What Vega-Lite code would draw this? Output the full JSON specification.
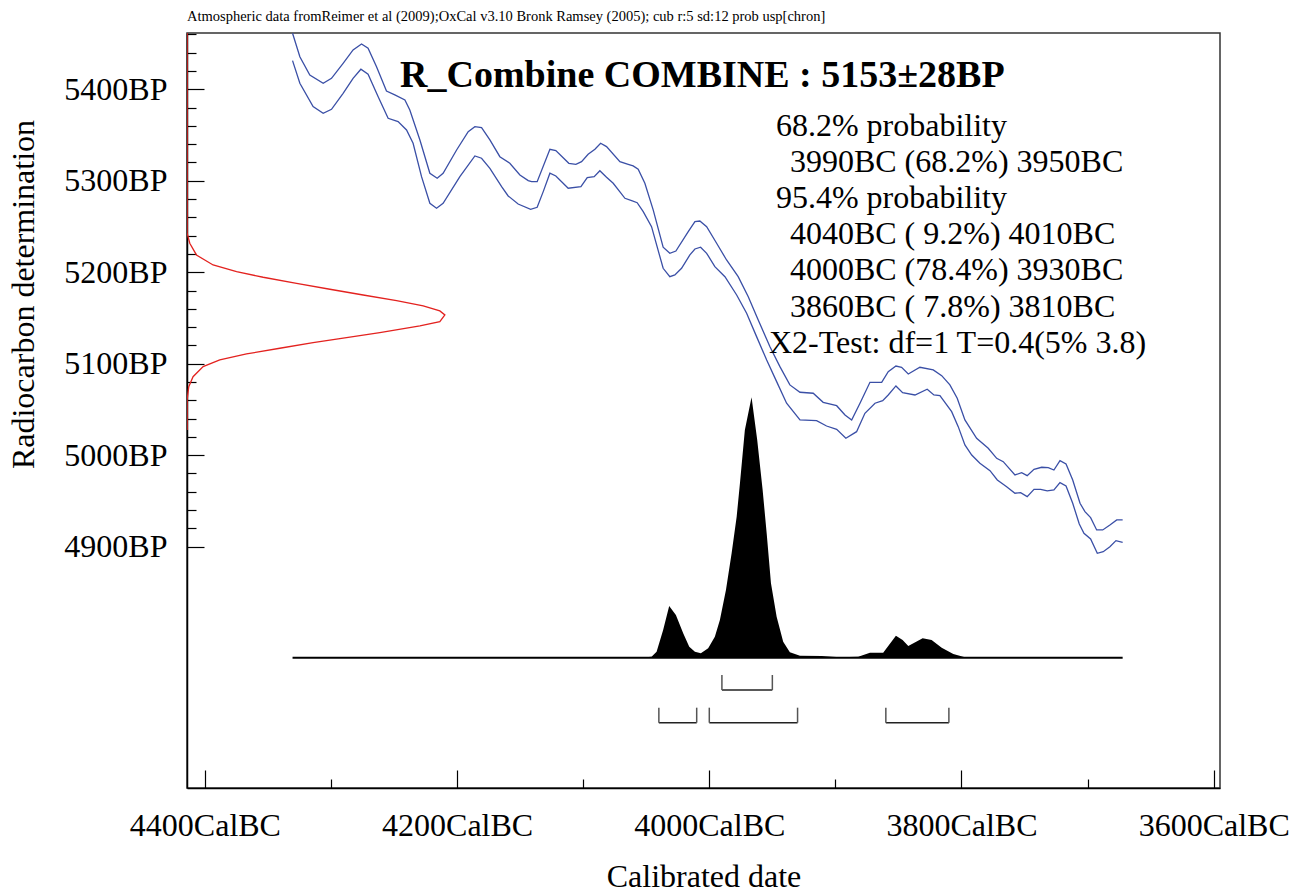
{
  "$schema": "https://vega.github.io/schema/vega-lite/v6.json",
  "width": 1033,
  "height": 755,
  "autosize": {"type": "none"},
  "padding": {"left": 187, "top": 33, "right": 80, "bottom": 104},
  "background": "white",
  "title": {"text": "Atmospheric data fromReimer et al (2009);OxCal v3.10 Bronk Ramsey (2005); cub r:5 sd:12 prob usp[chron]", "anchor": "start", "frame": "group", "font": "Liberation Serif", "fontSize": 14.5, "fontWeight": "normal", "color": "black", "baseline": "alphabetic", "offset": 14, "dy": 16},
  "config": {
    "view": {"stroke": "#333", "strokeWidth": 1.5},
    "font": "Liberation Serif",
    "axis": {"grid": false, "domainColor": "black", "domainWidth": 1.5, "tickColor": "black", "tickWidth": 1.2, "labelColor": "black", "titleColor": "black", "labelFont": "Liberation Serif", "titleFont": "Liberation Serif", "labelFontSize": 32, "titleFontSize": 32, "titleFontWeight": "normal", "labelOverlap": false, "labelFlush": false}
  },
  "datasets": {
    "curve": [
      {"band":"upper","calBC":4330.5,"BP":5461.2},{"band":"upper","calBC":4324.7,"BP":5435.6},{"band":"upper","calBC":4316.8,"BP":5415.6},{"band":"upper","calBC":4306.2,"BP":5406.6},{"band":"upper","calBC":4299.6,"BP":5412.0},{"band":"upper","calBC":4290.4,"BP":5428.4},{"band":"upper","calBC":4282.5,"BP":5443.0},{"band":"upper","calBC":4275.8,"BP":5449.5},{"band":"upper","calBC":4270.6,"BP":5444.8},{"band":"upper","calBC":4263.9,"BP":5424.7},{"band":"upper","calBC":4256.0,"BP":5398.1},{"band":"upper","calBC":4249.4,"BP":5393.8},{"band":"upper","calBC":4241.4,"BP":5388.3},{"band":"upper","calBC":4237.5,"BP":5377.4},{"band":"upper","calBC":4229.5,"BP":5344.6},{"band":"upper","calBC":4221.6,"BP":5308.2},{"band":"upper","calBC":4215.8,"BP":5302.7},{"band":"upper","calBC":4211.1,"BP":5308.2},{"band":"upper","calBC":4200.4,"BP":5333.6},{"band":"upper","calBC":4191.2,"BP":5353.7},{"band":"upper","calBC":4185.9,"BP":5359.1},{"band":"upper","calBC":4180.6,"BP":5358.0},{"band":"upper","calBC":4174.0,"BP":5344.6},{"band":"upper","calBC":4166.1,"BP":5326.3},{"band":"upper","calBC":4158.2,"BP":5319.1},{"band":"upper","calBC":4150.2,"BP":5306.3},{"band":"upper","calBC":4143.6,"BP":5300.1},{"band":"upper","calBC":4140.9,"BP":5299.0},{"band":"upper","calBC":4136.5,"BP":5299.0},{"band":"upper","calBC":4126.4,"BP":5334.4},{"band":"upper","calBC":4121.7,"BP":5332.9},{"band":"upper","calBC":4111.4,"BP":5319.1},{"band":"upper","calBC":4105.8,"BP":5318.0},{"band":"upper","calBC":4101.3,"BP":5320.9},{"band":"upper","calBC":4096.1,"BP":5328.9},{"band":"upper","calBC":4090.7,"BP":5334.4},{"band":"upper","calBC":4086.2,"BP":5341.0},{"band":"upper","calBC":4081.5,"BP":5337.3},{"band":"upper","calBC":4070.9,"BP":5320.9},{"band":"upper","calBC":4064.3,"BP":5318.0},{"band":"upper","calBC":4060.4,"BP":5316.2},{"band":"upper","calBC":4056.4,"BP":5312.5},{"band":"upper","calBC":4051.1,"BP":5297.2},{"band":"upper","calBC":4044.5,"BP":5268.1},{"band":"upper","calBC":4036.6,"BP":5227.3},{"band":"upper","calBC":4031.3,"BP":5220.7},{"band":"upper","calBC":4026.5,"BP":5223.2},{"band":"upper","calBC":4016.7,"BP":5244.3},{"band":"upper","calBC":4011.4,"BP":5255.3},{"band":"upper","calBC":4007.5,"BP":5256.0},{"band":"upper","calBC":4002.1,"BP":5249.8},{"band":"upper","calBC":3994.2,"BP":5231.7},{"band":"upper","calBC":3986.3,"BP":5213.4},{"band":"upper","calBC":3977.1,"BP":5195.1},{"band":"upper","calBC":3969.1,"BP":5173.3},{"band":"upper","calBC":3961.2,"BP":5147.8},{"band":"upper","calBC":3951.9,"BP":5118.6},{"band":"upper","calBC":3944.0,"BP":5096.8},{"band":"upper","calBC":3936.1,"BP":5076.8},{"band":"upper","calBC":3928.1,"BP":5068.8},{"band":"upper","calBC":3917.6,"BP":5067.7},{"band":"upper","calBC":3909.7,"BP":5057.8},{"band":"upper","calBC":3899.0,"BP":5054.1},{"band":"upper","calBC":3892.4,"BP":5044.0},{"band":"upper","calBC":3887.1,"BP":5038.5},{"band":"upper","calBC":3880.5,"BP":5056.8},{"band":"upper","calBC":3872.6,"BP":5079.7},{"band":"upper","calBC":3863.3,"BP":5079.7},{"band":"upper","calBC":3858.1,"BP":5091.3},{"band":"upper","calBC":3852.0,"BP":5097.5},{"band":"upper","calBC":3847.5,"BP":5096.1},{"band":"upper","calBC":3842.2,"BP":5088.8},{"band":"upper","calBC":3833.0,"BP":5096.1},{"band":"upper","calBC":3822.4,"BP":5093.2},{"band":"upper","calBC":3815.7,"BP":5086.9},{"band":"upper","calBC":3809.2,"BP":5076.8},{"band":"upper","calBC":3803.4,"BP":5062.2},{"band":"upper","calBC":3797.3,"BP":5038.5},{"band":"upper","calBC":3788.0,"BP":5018.5},{"band":"upper","calBC":3778.8,"BP":5007.6},{"band":"upper","calBC":3772.1,"BP":4996.6},{"band":"upper","calBC":3766.9,"BP":4992.9},{"band":"upper","calBC":3757.6,"BP":4978.4},{"band":"upper","calBC":3752.3,"BP":4980.9},{"band":"upper","calBC":3747.9,"BP":4977.6},{"band":"upper","calBC":3742.5,"BP":4984.6},{"band":"upper","calBC":3736.4,"BP":4986.8},{"band":"upper","calBC":3731.2,"BP":4986.4},{"band":"upper","calBC":3726.7,"BP":4983.8},{"band":"upper","calBC":3721.9,"BP":4994.0},{"band":"upper","calBC":3717.1,"BP":4990.4},{"band":"upper","calBC":3711.8,"BP":4972.9},{"band":"upper","calBC":3706.0,"BP":4947.4},{"band":"upper","calBC":3702.1,"BP":4938.3},{"band":"upper","calBC":3697.6,"BP":4931.7},{"band":"upper","calBC":3692.8,"BP":4918.3},{"band":"upper","calBC":3688.0,"BP":4918.3},{"band":"upper","calBC":3682.3,"BP":4923.7},{"band":"upper","calBC":3676.9,"BP":4929.2},{"band":"upper","calBC":3672.2,"BP":4929.2},
      {"band":"lower","calBC":4330.5,"BP":5431.3},{"band":"lower","calBC":4324.7,"BP":5406.6},{"band":"lower","calBC":4314.2,"BP":5381.0},{"band":"lower","calBC":4306.2,"BP":5373.8},{"band":"lower","calBC":4299.6,"BP":5378.1},{"band":"lower","calBC":4290.4,"BP":5395.6},{"band":"lower","calBC":4282.5,"BP":5412.0},{"band":"lower","calBC":4276.3,"BP":5421.9},{"band":"lower","calBC":4270.6,"BP":5416.4},{"band":"lower","calBC":4262.6,"BP":5391.9},{"band":"lower","calBC":4254.7,"BP":5368.3},{"band":"lower","calBC":4246.8,"BP":5364.6},{"band":"lower","calBC":4240.1,"BP":5355.5},{"band":"lower","calBC":4234.9,"BP":5341.0},{"band":"lower","calBC":4228.2,"BP":5304.5},{"band":"lower","calBC":4221.6,"BP":5275.4},{"band":"lower","calBC":4216.3,"BP":5269.9},{"band":"lower","calBC":4211.1,"BP":5275.4},{"band":"lower","calBC":4197.8,"BP":5304.5},{"band":"lower","calBC":4185.9,"BP":5327.1},{"band":"lower","calBC":4180.6,"BP":5324.6},{"band":"lower","calBC":4174.0,"BP":5313.6},{"band":"lower","calBC":4164.7,"BP":5293.5},{"band":"lower","calBC":4159.5,"BP":5283.4},{"band":"lower","calBC":4151.6,"BP":5274.6},{"band":"lower","calBC":4141.7,"BP":5268.8},{"band":"lower","calBC":4136.5,"BP":5271.0},{"band":"lower","calBC":4131.7,"BP":5288.1},{"band":"lower","calBC":4126.4,"BP":5308.2},{"band":"lower","calBC":4121.7,"BP":5305.2},{"band":"lower","calBC":4111.9,"BP":5291.8},{"band":"lower","calBC":4101.8,"BP":5293.5},{"band":"lower","calBC":4096.8,"BP":5303.4},{"band":"lower","calBC":4091.3,"BP":5304.5},{"band":"lower","calBC":4086.8,"BP":5311.0},{"band":"lower","calBC":4081.5,"BP":5303.8},{"band":"lower","calBC":4076.2,"BP":5297.2},{"band":"lower","calBC":4066.9,"BP":5280.8},{"band":"lower","calBC":4061.6,"BP":5278.2},{"band":"lower","calBC":4057.2,"BP":5276.0},{"band":"lower","calBC":4052.4,"BP":5266.2},{"band":"lower","calBC":4045.8,"BP":5249.8},{"band":"lower","calBC":4036.6,"BP":5204.3},{"band":"lower","calBC":4031.3,"BP":5195.1},{"band":"lower","calBC":4027.3,"BP":5197.0},{"band":"lower","calBC":4022.0,"BP":5204.3},{"band":"lower","calBC":4015.4,"BP":5218.9},{"band":"lower","calBC":4011.4,"BP":5225.4},{"band":"lower","calBC":4006.9,"BP":5227.3},{"band":"lower","calBC":4002.1,"BP":5220.7},{"band":"lower","calBC":3995.6,"BP":5206.1},{"band":"lower","calBC":3987.6,"BP":5195.1},{"band":"lower","calBC":3978.3,"BP":5175.1},{"band":"lower","calBC":3970.4,"BP":5155.1},{"band":"lower","calBC":3962.5,"BP":5129.6},{"band":"lower","calBC":3954.5,"BP":5104.1},{"band":"lower","calBC":3946.6,"BP":5080.4},{"band":"lower","calBC":3938.7,"BP":5056.8},{"band":"lower","calBC":3928.1,"BP":5038.5},{"band":"lower","calBC":3914.9,"BP":5037.7},{"band":"lower","calBC":3907.0,"BP":5031.9},{"band":"lower","calBC":3899.0,"BP":5028.3},{"band":"lower","calBC":3891.7,"BP":5018.5},{"band":"lower","calBC":3883.2,"BP":5025.7},{"band":"lower","calBC":3876.6,"BP":5045.8},{"band":"lower","calBC":3868.6,"BP":5056.8},{"band":"lower","calBC":3862.5,"BP":5059.6},{"band":"lower","calBC":3858.1,"BP":5065.8},{"band":"lower","calBC":3852.0,"BP":5075.7},{"band":"lower","calBC":3846.7,"BP":5068.3},{"band":"lower","calBC":3836.9,"BP":5065.8},{"band":"lower","calBC":3827.2,"BP":5072.1},{"band":"lower","calBC":3821.9,"BP":5065.8},{"band":"lower","calBC":3817.1,"BP":5065.1},{"band":"lower","calBC":3807.8,"BP":5047.6},{"band":"lower","calBC":3802.6,"BP":5031.2},{"band":"lower","calBC":3797.3,"BP":5011.2},{"band":"lower","calBC":3791.9,"BP":5000.2},{"band":"lower","calBC":3785.4,"BP":4991.2},{"band":"lower","calBC":3777.4,"BP":4983.1},{"band":"lower","calBC":3771.6,"BP":4972.9},{"band":"lower","calBC":3764.2,"BP":4965.6},{"band":"lower","calBC":3757.6,"BP":4958.4},{"band":"lower","calBC":3753.1,"BP":4959.0},{"band":"lower","calBC":3747.9,"BP":4954.7},{"band":"lower","calBC":3742.5,"BP":4962.7},{"band":"lower","calBC":3737.2,"BP":4962.7},{"band":"lower","calBC":3732.0,"BP":4960.9},{"band":"lower","calBC":3726.7,"BP":4962.0},{"band":"lower","calBC":3721.9,"BP":4970.0},{"band":"lower","calBC":3717.1,"BP":4966.4},{"band":"lower","calBC":3711.8,"BP":4947.4},{"band":"lower","calBC":3706.6,"BP":4924.8},{"band":"lower","calBC":3702.9,"BP":4914.6},{"band":"lower","calBC":3697.6,"BP":4908.4},{"band":"lower","calBC":3692.3,"BP":4892.8},{"band":"lower","calBC":3687.6,"BP":4894.5},{"band":"lower","calBC":3682.3,"BP":4900.0},{"band":"lower","calBC":3677.5,"BP":4906.6},{"band":"lower","calBC":3672.2,"BP":4904.8}
    ],
    "posterior": [
      {"calBC":4055.0,"BP":4778.7},{"calBC":4045.8,"BP":4779.8},{"calBC":4041.8,"BP":4785.2},{"calBC":4036.6,"BP":4808.9},{"calBC":4031.8,"BP":4835.2},{"calBC":4026.5,"BP":4825.3},{"calBC":4020.7,"BP":4805.3},{"calBC":4015.9,"BP":4790.7},{"calBC":4011.4,"BP":4785.2},{"calBC":4006.7,"BP":4783.5},{"calBC":4000.9,"BP":4788.9},{"calBC":3995.6,"BP":4801.6},{"calBC":3991.6,"BP":4819.9},{"calBC":3986.8,"BP":4852.7},{"calBC":3982.3,"BP":4892.8},{"calBC":3978.3,"BP":4932.8},{"calBC":3975.7,"BP":4969.3},{"calBC":3971.8,"BP":5027.6},{"calBC":3966.5,"BP":5063.3},{"calBC":3962.0,"BP":5016.6},{"calBC":3957.7,"BP":4962.0},{"calBC":3954.5,"BP":4914.6},{"calBC":3951.1,"BP":4860.0},{"calBC":3946.6,"BP":4823.5},{"calBC":3941.4,"BP":4796.2},{"calBC":3936.1,"BP":4784.6},{"calBC":3928.1,"BP":4780.8},{"calBC":3910.9,"BP":4780.5},{"calBC":3896.4,"BP":4779.1},{"calBC":3881.9,"BP":4779.8},{"calBC":3872.6,"BP":4784.1},{"calBC":3862.1,"BP":4784.1},{"calBC":3852.0,"BP":4802.7},{"calBC":3846.7,"BP":4798.0},{"calBC":3842.2,"BP":4791.4},{"calBC":3830.8,"BP":4799.9},{"calBC":3823.7,"BP":4798.0},{"calBC":3815.7,"BP":4789.6},{"calBC":3806.5,"BP":4782.7},{"calBC":3797.3,"BP":4779.1},{"calBC":3790.0,"BP":4778.7}
    ],
    "baseline": [{"calBC":4330.5,"calBC2":3672.2,"BP":4778.7}],
    "date": [
      {"calBC":4414.1,"BP":5461.5},{"calBC":4414.1,"BP":5242.6},{"calBC":4412.0,"BP":5231.7},{"calBC":4406.7,"BP":5218.9},{"calBC":4393.5,"BP":5207.9},{"calBC":4374.9,"BP":5200.6},{"calBC":4353.8,"BP":5194.5},{"calBC":4327.3,"BP":5187.9},{"calBC":4300.9,"BP":5181.4},{"calBC":4274.5,"BP":5175.1},{"calBC":4248.0,"BP":5168.9},{"calBC":4226.9,"BP":5163.1},{"calBC":4213.7,"BP":5157.7},{"calBC":4209.7,"BP":5153.3},{"calBC":4213.7,"BP":5146.0},{"calBC":4229.5,"BP":5141.3},{"calBC":4261.3,"BP":5133.9},{"calBC":4287.7,"BP":5128.5},{"calBC":4314.2,"BP":5123.0},{"calBC":4340.6,"BP":5116.9},{"calBC":4367.0,"BP":5110.7},{"calBC":4388.2,"BP":5104.1},{"calBC":4401.4,"BP":5096.8},{"calBC":4409.4,"BP":5085.8},{"calBC":4412.8,"BP":5074.9},{"calBC":4414.1,"BP":5060.4},{"calBC":4414.1,"BP":5027.6}
    ],
    "rangeBars": [
      {"calBC":3990,"calBC2":3950,"BP":4743.4},
      {"calBC":4040,"calBC2":4010,"BP":4707.6},
      {"calBC":4000,"calBC2":3930,"BP":4707.6},
      {"calBC":3860,"calBC2":3810,"BP":4707.6}
    ],
    "rangeEnds": [
      {"calBC":3990,"BP":4743.4,"BP2":4759.7},{"calBC":3950,"BP":4743.4,"BP2":4759.7},
      {"calBC":4040,"BP":4707.6,"BP2":4724.0},{"calBC":4010,"BP":4707.6,"BP2":4724.0},
      {"calBC":4000,"BP":4707.6,"BP2":4724.0},{"calBC":3930,"BP":4707.6,"BP2":4724.0},
      {"calBC":3860,"BP":4707.6,"BP2":4724.0},{"calBC":3810,"BP":4707.6,"BP2":4724.0}
    ],
    "heading": [{"label":"R_Combine COMBINE : 5153±28BP","calBC":4005.5,"BP":5402.5}],
    "notes": [
      {"label":"68.2% probability","calBC":3947.2,"BP":5348.9},
      {"label":"3990BC (68.2%) 3950BC","calBC":3936.1,"BP":5309.6},
      {"label":"95.4% probability","calBC":3947.2,"BP":5270.2},
      {"label":"4040BC ( 9.2%) 4010BC","calBC":3936.1,"BP":5230.9},
      {"label":"4000BC (78.4%) 3930BC","calBC":3936.1,"BP":5191.5},
      {"label":"3860BC ( 7.8%) 3810BC","calBC":3936.1,"BP":5151.1},
      {"label":"X2-Test: df=1 T=0.4(5% 3.8)","calBC":3952.7,"BP":5111.8}
    ]
  },
  "encoding": {
    "x": {"field": "calBC", "type": "quantitative",
      "scale": {"domain": [3595, 4414.2], "reverse": true, "nice": false, "zero": false},
      "axis": {"values": [4400,4300,4200,4100,4000,3900,3800,3700,3600],
        "labelExpr": "datum.value % 200 === 0 ? datum.value + 'CalBC' : ''",
        "labelFontSize": {"condition": {"test": "datum.value % 200 === 0", "value": 32}, "value": 1},
        "tickSize": {"condition": {"test": "datum.value % 200 === 0", "value": -18}, "value": -9},
        "labelPadding": 65, "labelBaseline": "alphabetic",
        "title": "Calibrated date", "titleBaseline": "alphabetic", "titleY": 98}},
    "y": {"field": "BP", "type": "quantitative",
      "scale": {"domain": [4636.2, 5461.5], "nice": false, "zero": false},
      "axis": {"values": [4900,4920,4940,4960,4980,5000,5020,5040,5060,5080,5100,5120,5140,5160,5180,5200,5220,5240,5260,5280,5300,5320,5340,5360,5380,5400,5420,5440,5460],
        "labelExpr": "datum.value % 100 === 0 ? datum.value + 'BP' : ''",
        "labelFontSize": {"condition": {"test": "datum.value % 100 === 0", "value": 32}, "value": 1},
        "tickSize": {"condition": {"test": "datum.value % 100 === 0", "value": -17}, "value": -9},
        "labelPadding": 37, "labelBaseline": "middle", "labelAlign": "right",
        "title": "Radiocarbon determination", "titleBaseline": "alphabetic", "titleAngle": -90, "titleX": -154, "titleY": 261}}
  },
  "layer": [
    {"data": {"name": "curve"}, "mark": {"type": "line", "color": "#3a4fa6", "strokeWidth": 1.3, "clip": true}, "encoding": {"detail": {"field": "band"}}},
    {"data": {"name": "posterior"}, "mark": {"type": "area", "color": "black", "clip": true}, "encoding": {"y2": {"datum": 4778.7}}},
    {"data": {"name": "baseline"}, "mark": {"type": "rule", "color": "black", "strokeWidth": 2}, "encoding": {"x2": {"field": "calBC2"}}},
    {"data": {"name": "date"}, "mark": {"type": "line", "color": "#e3221f", "strokeWidth": 1.3, "clip": true}, "encoding": {"order": {"field": "BP", "type": "quantitative"}}},
    {"data": {"name": "rangeBars"}, "mark": {"type": "rule", "color": "#222", "strokeWidth": 1.5}, "encoding": {"x2": {"field": "calBC2"}}},
    {"data": {"name": "rangeEnds"}, "mark": {"type": "rule", "color": "#555", "strokeWidth": 1.5}, "encoding": {"y2": {"field": "BP2"}}},
    {"data": {"name": "heading"}, "mark": {"type": "text", "align": "center", "baseline": "alphabetic", "font": "Liberation Serif", "fontSize": 38, "fontWeight": "bold", "color": "black"}, "encoding": {"text": {"field": "label"}}},
    {"data": {"name": "notes"}, "mark": {"type": "text", "align": "left", "baseline": "alphabetic", "font": "Liberation Serif", "fontSize": 32, "color": "black"}, "encoding": {"text": {"field": "label"}}}
  ]
}
